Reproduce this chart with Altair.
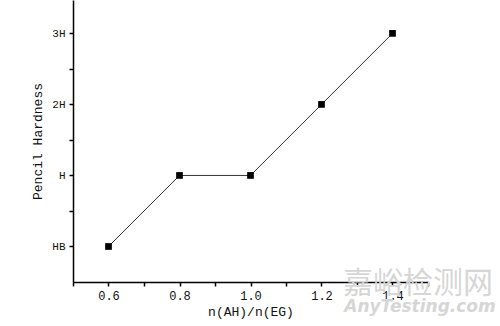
import altair as alt
import pandas as pd

ratio = [0.6, 0.8, 1.0, 1.2, 1.4]
hardness = [1, 2, 2, 3, 4]
hardness_labels = ["HB", "H", "2H", "3H"]

df = pd.DataFrame({"ratio": ratio, "hardness": hardness})

FONT = "Liberation Mono"

x_ticks = [0.5, 0.6, 0.7, 0.8, 0.9, 1.0, 1.1, 1.2, 1.3, 1.4, 1.5]
y_ticks = [1, 1.5, 2, 2.5, 3, 3.5, 4]

label_map = "{" + ",".join(f"'{i+1}':'{l}'" for i, l in enumerate(hardness_labels)) + "}"

x = alt.X("ratio:Q", scale=alt.Scale(domain=[0.5, 1.5], nice=False, zero=False),
          axis=alt.Axis(values=x_ticks, title="n(AH)/n(EG)",
                        labelExpr="round(datum.value*10) % 2 == 0 && datum.value > 0.55 && datum.value < 1.45 ? format(datum.value, '.1f') : ''",
                        grid=False, tickSize=4, tickColor="black", tickWidth=1.5,
                        domainColor="black", domainWidth=1.5,
                        labelFont=FONT, labelFontSize=12, labelColor="#111", labelPadding=4,
                        titleFont=FONT, titleFontSize=13, titleFontWeight="normal",
                        titleColor="#111", titlePadding=4))
y = alt.Y("hardness:Q", scale=alt.Scale(domain=[0.5, 4.47], nice=False, zero=False),
          axis=alt.Axis(values=y_ticks, title="Pencil Hardness",
                        labelExpr=f"datum.value % 1 == 0 ? {label_map}[format(datum.value, 'd')] : ''",
                        grid=False, tickSize=4, tickColor="black", tickWidth=1.5,
                        domainColor="black", domainWidth=1.5,
                        labelFont=FONT, labelFontSize=11, labelColor="#111", labelPadding=4,
                        titleFont=FONT, titleFontSize=13, titleFontWeight="normal",
                        titleColor="#111", titlePadding=7))

line = alt.Chart(df).mark_line(color="#333", strokeWidth=1).encode(x=x, y=y)
pts = alt.Chart(df).mark_point(shape="square", filled=True, color="black", size=45, opacity=1).encode(x=x, y=y)

wm_cn = alt.Chart(pd.DataFrame({"t": ["嘉峪检测网"]})).mark_text(
    font="Noto Sans CJK SC", fontSize=30, color="#d6d6d6", clip=False
).encode(x=alt.value(345), y=alt.value(284), text="t:N")
wm_en = alt.Chart(pd.DataFrame({"t": ["AnyTesting.com"]})).mark_text(
    font="DejaVu Sans", fontSize=17, fontStyle="italic", fontWeight="bold", color="#d6d6d6", clip=False
).encode(x=alt.value(347), y=alt.value(307), text="t:N")

chart = alt.layer(line, pts, wm_cn, wm_en).properties(
    width=355, height=282,
    background="white",
    autosize=alt.AutoSizeParams(type="none"),
    padding={"left": 73, "top": 0, "right": 72, "bottom": 44},
).configure_view(strokeWidth=0, stroke="transparent")

chart.save("out.html", embed_options={"renderer": "svg", "actions": False})
